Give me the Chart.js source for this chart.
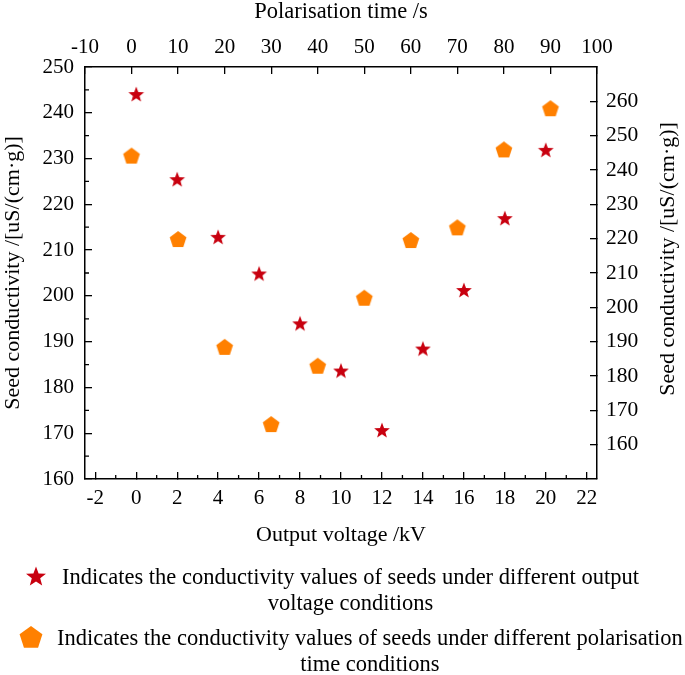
<!DOCTYPE html>
<html>
<head>
<meta charset="utf-8">
<script src="https://cdn.jsdelivr.net/npm/chart.js@4.4.1/dist/chart.umd.min.js"></script>
<style>
  html, body { margin: 0; padding: 0; background: #fff; }
  canvas { display: block; }
</style>
</head>
<body>
<canvas id="chart" width="685" height="675"></canvas>
<script>
const voltage = [0, 2, 4, 6, 8, 10, 12, 14, 16, 18, 20]
const voltageConductivity = [244.1, 225.5, 212.9, 204.9, 194.0, 183.7, 170.7, 188.5, 201.3, 217.0, 231.9]
const polTime = [0, 10, 20, 30, 40, 50, 60, 70, 80, 90]
const timeConductivity = [244.2, 219.9, 188.5, 166.0, 183.0, 202.8, 219.6, 223.3, 246.0, 258.0]

const voltageTicks = [-2, 0, 2, 4, 6, 8, 10, 12, 14, 16, 18, 20, 22]
const voltageMinor = [-1, 1, 3, 5, 7, 9, 11, 13, 15, 17, 19, 21]
const timeTicks = [-10, 0, 10, 20, 30, 40, 50, 60, 70, 80, 90, 100]
const leftTicks = [160, 170, 180, 190, 200, 210, 220, 230, 240, 250]
const leftMinor = [165, 175, 185, 195, 205, 215, 225, 235, 245]
const rightTicks = [160, 170, 180, 190, 200, 210, 220, 230, 240, 250, 260]

const yTitle = "Seed conductivity /[uS/(cm\u00b7g)]"
const legendLines = [
  ["Indicates the conductivity values of seeds under different output", "voltage conditions"],
  ["Indicates the conductivity values of seeds under different polarisation", "time conditions"]
]

const RED = "#c8000f"
const ORANGE = "#ff8000"
const FONT = "'Liberation Serif', 'Times New Roman', serif"

function polygonPath(ctx, x, y, R, points, inner) {
  ctx.beginPath()
  const n = inner ? points * 2 : points
  for (let i = 0; i < n; i++) {
    const r = inner && i % 2 ? R * inner : R
    const a = -Math.PI / 2 + i * 2 * Math.PI / n
    const px = x + r * Math.cos(a), py = y + r * Math.sin(a)
    i ? ctx.lineTo(px, py) : ctx.moveTo(px, py)
  }
  ctx.closePath()
}
const drawStar = (ctx, x, y, R) => { polygonPath(ctx, x, y, R, 5, 0.42); ctx.fillStyle = RED; ctx.fill() }
const drawPenta = (ctx, x, y, R) => { polygonPath(ctx, x, y, R, 5, 0); ctx.fillStyle = ORANGE; ctx.fill() }

function markerImage(fn, R) {
  const c = document.createElement("canvas")
  c.width = c.height = Math.ceil(R) * 2 + 2
  fn(c.getContext("2d"), c.width / 2, c.height / 2 + R * 0.1, R)
  return c
}

const tickFont = size => ({ family: FONT, size })
const axisGrid = { drawOnChartArea: false, drawTicks: true, tickLength: -7, color: "#000", lineWidth: 1.3 }
const axisBorder = { display: true, color: "#000", width: 1.5 }

const extras = {
  id: "extras",
  afterDraw(chart) {
    const { ctx, chartArea: a, scales } = chart
    ctx.save()
    ctx.strokeStyle = "#000"
    ctx.lineWidth = 1.3
    ctx.beginPath()
    voltageMinor.forEach(v => {
      const px = scales.x.getPixelForValue(v)
      ctx.moveTo(px, a.bottom); ctx.lineTo(px, a.bottom - 4)
    })
    leftMinor.forEach(v => {
      const py = scales.y.getPixelForValue(v)
      ctx.moveTo(a.left, py); ctx.lineTo(a.left + 4, py)
    })
    ctx.stroke()

    // right axis title, reading bottom to top like the left one
    ctx.fillStyle = "#000"
    ctx.font = "22px " + FONT
    ctx.textAlign = "center"
    ctx.textBaseline = "middle"
    ctx.translate(668, 259)
    ctx.rotate(-Math.PI / 2)
    ctx.fillText(yTitle, 0, 0)
    ctx.restore()

    // legend
    ctx.save()
    ctx.font = "22.5px " + FONT
    ctx.textBaseline = "middle"
    ctx.textAlign = "center"
    const items = [
      { draw: drawStar, R: 10.5, ix: 36, iy: 577, tx: 62, ty: 578 },
      { draw: drawPenta, R: 12, ix: 31, iy: 638, tx: 57, ty: 639 }
    ]
    items.forEach((it, i) => {
      it.draw(ctx, it.ix, it.iy, it.R)
      ctx.fillStyle = "#000"
      const w = ctx.measureText(legendLines[i][0]).width
      const cx = it.tx + w / 2
      ctx.fillText(legendLines[i][0], cx, it.ty)
      ctx.fillText(legendLines[i][1], cx, it.ty + 26)
    })
    ctx.restore()
  }
}

new Chart(document.getElementById("chart"), {
  type: "scatter",
  data: {
    datasets: [
      {
        label: legendLines[0].join(" "),
        data: voltage.map((v, i) => ({ x: v, y: voltageConductivity[i] })),
        xAxisID: "x", yAxisID: "y",
        pointStyle: markerImage(drawStar, 8.3)
      },
      {
        label: legendLines[1].join(" "),
        data: polTime.map((t, i) => ({ x: t, y: timeConductivity[i] })),
        xAxisID: "x2", yAxisID: "y2",
        pointStyle: markerImage(drawPenta, 8.8)
      }
    ]
  },
  options: {
    responsive: false,
    animation: false,
    layout: { padding: { left: 0, right: 0, top: 0, bottom: 126 } },
    plugins: { legend: { display: false }, tooltip: { enabled: false } },
    scales: {
      x: {
        type: "linear", position: "bottom", min: -2.5, max: 22.5,
        afterBuildTicks: s => { s.ticks = voltageTicks.map(v => ({ value: v })) },
        afterFit: s => { s.height = 70 },
        grid: axisGrid, border: axisBorder,
        ticks: { color: "#000", font: tickFont(21), padding: 14, autoSkip: false, maxRotation: 0, callback: v => String(v) },
        title: { display: true, text: "Output voltage /kV", color: "#000", font: tickFont(22), padding: { top: 0, bottom: 1 } }
      },
      x2: {
        type: "linear", position: "top", min: -10, max: 100,
        afterBuildTicks: s => { s.ticks = timeTicks.map(v => ({ value: v })) },
        afterFit: s => { s.height = 67 },
        grid: axisGrid, border: axisBorder,
        ticks: { color: "#000", font: tickFont(21), padding: 14, autoSkip: false, maxRotation: 0, callback: v => String(v) },
        title: { display: true, text: "Polarisation time /s", color: "#000", font: tickFont(22.5), padding: { top: -1, bottom: 0 } }
      },
      y: {
        type: "linear", position: "left", min: 160, max: 250,
        afterBuildTicks: s => { s.ticks = leftTicks.map(v => ({ value: v })) },
        afterFit: s => { s.width = 85 },
        grid: axisGrid, border: axisBorder,
        ticks: { color: "#000", font: tickFont(21), padding: 18, autoSkip: false, callback: v => String(v) },
        title: { display: true, text: yTitle, color: "#000", font: tickFont(22), padding: { top: 0, bottom: 0 } }
      },
      y2: {
        type: "linear", position: "right", min: 150, max: 270,
        afterBuildTicks: s => { s.ticks = rightTicks.map(v => ({ value: v })) },
        afterFit: s => { s.width = 88 },
        grid: axisGrid, border: axisBorder,
        ticks: { color: "#000", font: tickFont(21.5), padding: 16, autoSkip: false, callback: v => String(v) }
      }
    }
  },
  plugins: [extras]
})
</script>
</body>
</html>
